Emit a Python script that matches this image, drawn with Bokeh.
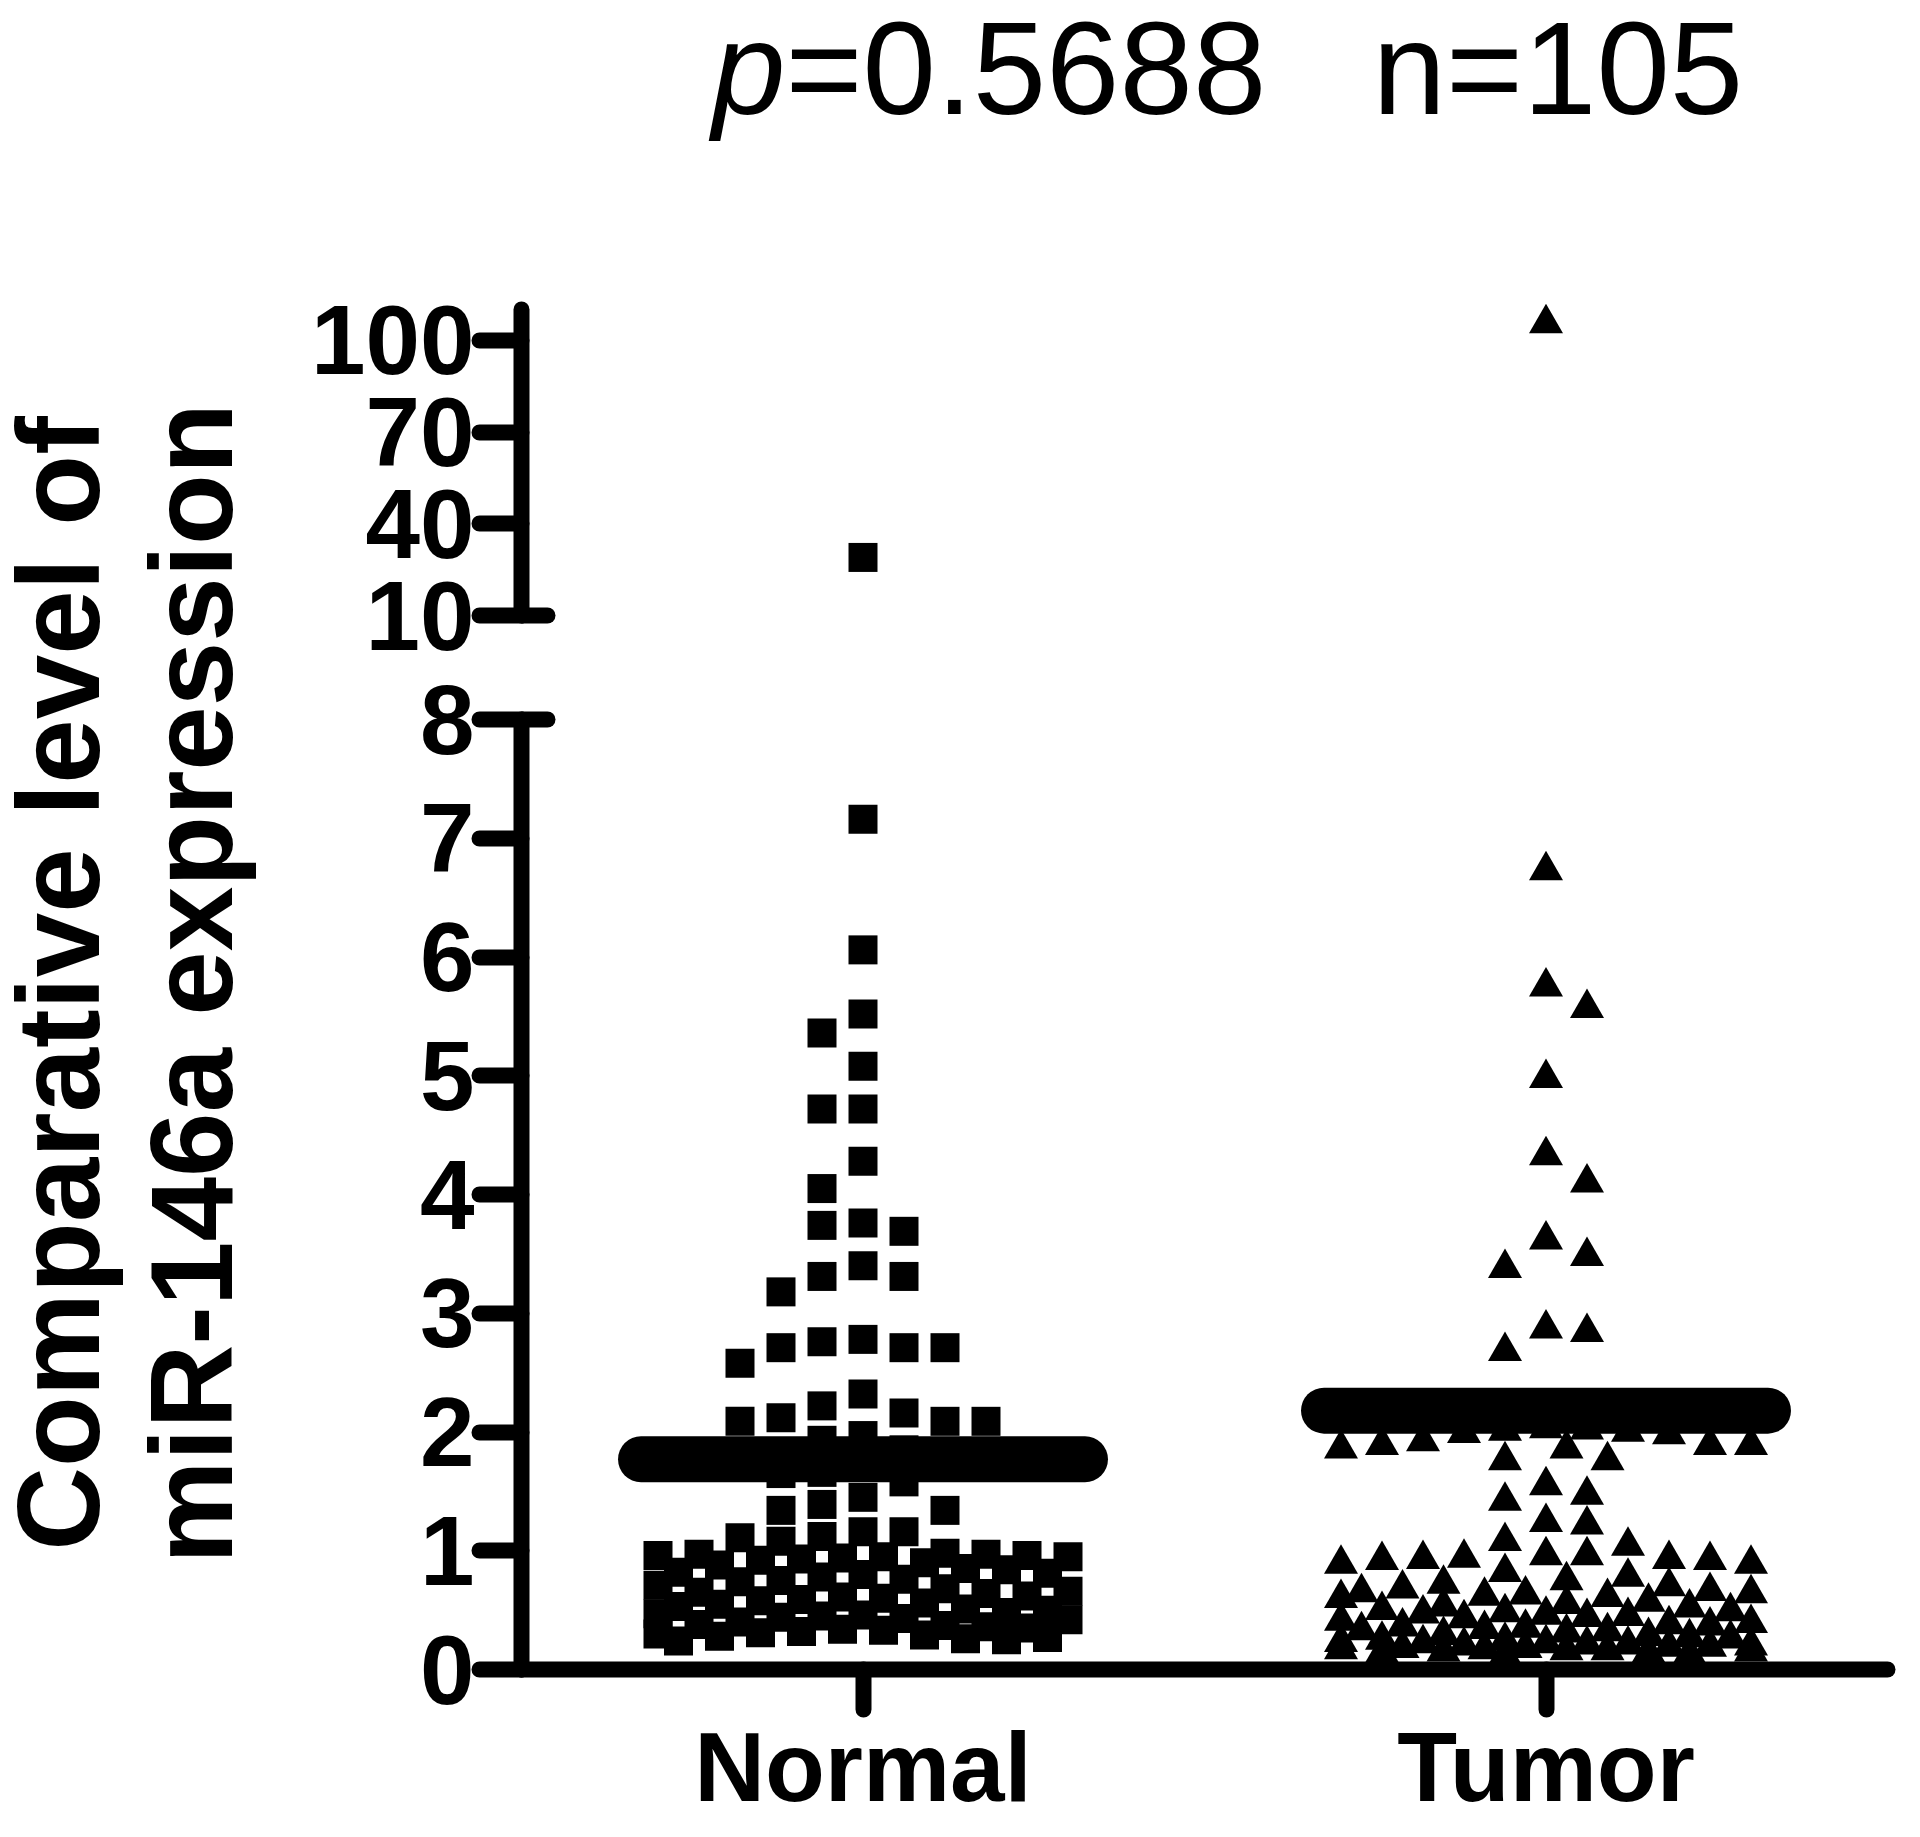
import math
from bokeh.plotting import figure
from bokeh.models import Range1d, LinearAxis, FixedTicker, FactorRange
from bokeh.layouts import row, column
from bokeh.core.properties import value
from bokeh.embed import file_html
from bokeh.resources import INLINE

# ---------------- data ----------------
categories = ["Normal", "Tumor"]
title_italic = "p"
title_pvalue = "=0.5688"
title_n = "n=105"
y_title_lines = ["Comparative level of", "miR-146a expression"]
lower_ticks = [0, 1, 2, 3, 4, 5, 6, 7, 8]
upper_ticks = [10, 40, 70, 100]

normal_values = [
    29.0,
    7.16, 6.06, 5.52, 5.36, 5.08, 4.72, 4.72, 4.28, 4.05, 3.76, 3.74, 3.69,
    3.40, 3.31, 3.31, 3.18, 2.76, 2.71, 2.58, 2.71, 2.71, 2.78, 2.32, 2.22,
    2.12, 2.09, 2.09, 2.09, 2.16,
    1.97, 1.93, 1.85, 1.72, 1.65, 1.66, 1.58,
    1.45, 1.34, 1.34, 1.39, 1.16, 1.16, 1.11, 1.08, 1.12,
    0.97, 0.96, 0.95, 0.94, 0.96, 0.93, 0.95, 0.97, 0.92, 0.98,
    0.85, 0.82, 0.80, 0.78, 0.76, 0.74, 0.81, 0.84, 0.71, 0.75,
    0.68, 0.66, 0.64, 0.62, 0.60, 0.58, 0.56, 0.65, 0.61, 0.59,
    0.53, 0.50, 0.48, 0.46, 0.44, 0.42, 0.40, 0.51, 0.47, 0.43,
    0.38, 0.36, 0.34, 0.32, 0.30, 0.28, 0.26, 0.24, 0.35, 0.31, 0.27, 0.25,
    0.29, 0.33, 0.37,
    0.90, 0.88, 0.55, 0.45,
]

tumor_values = [
    105.6,
    6.73, 5.75, 5.57, 4.98, 4.33, 4.10, 3.62, 3.48, 3.38, 2.87, 2.84, 2.68,
    2.02, 1.99, 2.00, 2.03, 1.98, 2.01,
    1.89, 1.89, 1.86, 1.86, 1.89, 1.92,
    1.76, 1.76,
    1.47, 1.42, 1.55,
    1.24, 1.22,
    1.04, 0.94, 0.93, 0.93, 0.89, 1.08, 0.92, 0.89, 0.92, 0.96, 0.96,
    0.82, 0.78, 0.75, 0.72, 0.70, 0.68, 0.66, 0.65, 0.64, 0.63, 0.62, 0.61, 0.60,
    0.57, 0.55, 0.53, 0.52, 0.50, 0.49, 0.48, 0.47, 0.46, 0.45, 0.44, 0.43,
    0.41, 0.39, 0.38, 0.37, 0.36, 0.35, 0.34, 0.33, 0.32, 0.31,
    0.29, 0.28, 0.27, 0.26, 0.25, 0.24, 0.23, 0.22, 0.21, 0.20, 0.19,
    0.18, 0.17, 0.16, 0.15, 0.14, 0.13, 0.12, 0.17, 0.15, 0.19, 0.21, 0.16,
    0.14, 0.18, 0.20, 0.22,
]

mean_values = [1.77, 2.18]

# ---------------- layout constants (screen pixels) ----------------
TOTAL_W = 1910
TOTAL_H = 1830
LEFT_W = 260
RIGHT_W = TOTAL_W - LEFT_W
FRAME_LEFT = 521
CAT_PX = 683.0                       # pixels per category slot
FRAME_W = int(round(len(categories) * CAT_PX))
BORDER_L = FRAME_LEFT - LEFT_W
BORDER_R = RIGHT_W - BORDER_L - FRAME_W

SPLIT = 667            # boundary between upper and lower panels
V10_Y = 615            # screen y of value 10 (upper segment)
UP_PX = 3.056          # px per unit, upper segment
ZERO_Y = 1669          # screen y of value 0 (lower segment)
LO_PX = 118.75         # px per unit, lower segment

H_TOP = SPLIT
H_BOT = TOTAL_H - H_TOP
top_lo = 10 - (SPLIT - V10_Y) / UP_PX
top_hi = 10 + V10_Y / UP_PX
bot_hi = (ZERO_Y - SPLIT) / LO_PX
BORDER_B = TOTAL_H - ZERO_Y

SPLIT_VALUE = 9.0
HALF_COL_PX = 20.5
MAX_HALF = 10
SQ_SIZE = 29
TRI_SIZE = 34
MEAN_HALF = 0.325
AXIS_W = 16
FONT = "Liberation Sans"
BASELINE_FIX = 46      # renderer places 'alphabetic' anchor this far above glyph baseline


def sx(px):
    return (px - FRAME_LEFT) / CAT_PX


def sy_top(py):
    return 10 + (V10_Y - py) / UP_PX


def swarm(vals, px_per_unit, w, h, first_side):
    """Dot-plot layout: place each point (top first) at the half-column slot
    that overlaps least with points already placed; full columns near the
    centre win ties."""
    cands = [0]
    for k in range(2, MAX_HALF + 1, 2):
        cands += [first_side * k, -first_side * k]
    for k in range(1, MAX_HALF + 1, 2):
        cands += [first_side * k, -first_side * k]
    order = sorted(range(len(vals)), key=lambda i: -vals[i])
    placed = []
    offs = [0.0] * len(vals)
    for i in order:
        yv = vals[i] * px_per_unit
        best, best_ov = None, None
        for c in cands:
            xc = c * HALF_COL_PX
            ov = 0.0
            for (xp, yp) in placed:
                ox = w - abs(xc - xp)
                oy = h - abs(yv - yp)
                if ox > 0 and oy > 0:
                    ov += ox * oy
            if best_ov is None or ov < best_ov - 1e-6:
                best, best_ov = c, ov
        placed.append((best * HALF_COL_PX, yv))
        offs[i] = best * HALF_COL_PX / CAT_PX
    return offs


def style_axis(ax, size, tick_out=42):
    ax.axis_line_width = AXIS_W
    ax.axis_line_color = "black"
    ax.axis_line_cap = "round"
    ax.major_tick_line_width = AXIS_W
    ax.major_tick_line_color = "black"
    ax.major_tick_line_cap = "round"
    ax.major_tick_out = tick_out
    ax.major_tick_in = 0
    ax.minor_tick_line_color = None
    ax.major_label_text_font = FONT
    ax.major_label_text_font_style = "bold"
    ax.major_label_text_font_size = size
    ax.major_label_text_color = "black"


def finish(f):
    f.outline_line_color = None
    f.background_fill_color = "white"
    f.border_fill_color = "white"
    f.grid.visible = False
    return f


# ---------------- left panel: y title ----------------
left = finish(figure(width=LEFT_W, height=TOTAL_H, x_range=Range1d(0, LEFT_W),
                     y_range=Range1d(0, TOTAL_H), x_axis_type=None, y_axis_type=None,
                     toolbar_location=None, output_backend="svg", min_border=0))
title_center_y = 983
line_base_x = [104, 237]
for line, bx in zip(y_title_lines, line_base_x):
    left.text(x=[bx - BASELINE_FIX], y=[TOTAL_H - title_center_y],
              text=[line], angle=math.pi / 2,
              text_font=value(FONT), text_font_style=value("bold"),
              text_font_size=value("116px"), text_align=value("center"),
              text_baseline=value("alphabetic"), text_color="black")

# ---------------- upper panel ----------------
top = finish(figure(width=RIGHT_W, height=H_TOP, x_range=Range1d(0, len(categories)),
                    y_range=Range1d(top_lo, top_hi), x_axis_type=None, y_axis_type=None,
                    toolbar_location=None, output_backend="svg",
                    min_border_left=BORDER_L, min_border_right=BORDER_R,
                    min_border_top=0, min_border_bottom=0))
ax_up = LinearAxis(ticker=FixedTicker(ticks=upper_ticks), bounds=(10, 110))
style_axis(ax_up, "98px")
ax_up.major_label_standoff = 5
top.add_layout(ax_up, "left")

base_y = sy_top(114 - BASELINE_FIX)
split_x = sx(785)
top.text(x=[split_x], y=[base_y], text=[title_italic],
         text_font=value(FONT), text_font_style=value("italic"),
         text_font_size=value("132px"), text_align=value("right"),
         text_baseline=value("alphabetic"), text_color="black")
top.text(x=[split_x], y=[base_y], text=[title_pvalue],
         text_font=value(FONT), text_font_style=value("normal"),
         text_font_size=value("132px"), text_align=value("left"),
         text_baseline=value("alphabetic"), text_color="black")
top.text(x=[sx(1372)], y=[base_y], text=[title_n],
         text_font=value(FONT), text_font_style=value("normal"),
         text_font_size=value("132px"), text_align=value("left"),
         text_baseline=value("alphabetic"), text_color="black")

top.segment(x0=[0], x1=[26 / CAT_PX], y0=[10], y1=[10],
            line_width=AXIS_W, line_color="black", line_cap="round")

# ---------------- lower panel ----------------
bot = finish(figure(width=RIGHT_W, height=H_BOT,
                    x_range=FactorRange(factors=categories, range_padding=0),
                    y_range=Range1d(0, bot_hi),
                    toolbar_location=None, output_backend="svg",
                    min_border_left=BORDER_L, min_border_right=BORDER_R,
                    min_border_top=0, min_border_bottom=BORDER_B))
ax_lo = bot.yaxis[0]
ax_lo.ticker = FixedTicker(ticks=lower_ticks)
ax_lo.bounds = (0, 8)
style_axis(ax_lo, "98px")
ax_lo.major_label_standoff = 5

ax_x = bot.xaxis[0]
style_axis(ax_x, "98px", tick_out=40)
ax_x.major_label_standoff = 2

bot.segment(x0=[0], x1=[26 / CAT_PX], y0=[8], y1=[8],
            line_width=AXIS_W, line_color="black", line_cap="round")

markers = ["square", "triangle"]
sizes = [SQ_SIZE, TRI_SIZE]
heights = [SQ_SIZE, TRI_SIZE * 0.866]
first_sides = [-1, 1]
for ci, vals in enumerate([normal_values, tumor_values]):
    center = ci + 0.5
    low = [v for v in vals if v < SPLIT_VALUE]
    high = [v for v in vals if v >= SPLIT_VALUE]
    offs = swarm(low, LO_PX, sizes[ci], heights[ci], first_sides[ci])
    bot.scatter(x=[center + o for o in offs], y=low,
                marker=markers[ci], size=sizes[ci],
                fill_color="black", line_color=None)
    offs_h = swarm(high, UP_PX, sizes[ci], heights[ci], first_sides[ci])
    top.scatter(x=[center + o for o in offs_h], y=high,
                marker=markers[ci], size=sizes[ci],
                fill_color="black", line_color=None)

for ci, m in enumerate(mean_values):
    c = ci + 0.5
    bot.segment(x0=[c - MEAN_HALF], x1=[c + MEAN_HALF], y0=[m], y1=[m],
                line_width=46, line_color="black", line_cap="round")

layout = row(left, column(top, bot))
open("out.html", "w").write(file_html(layout, INLINE))
